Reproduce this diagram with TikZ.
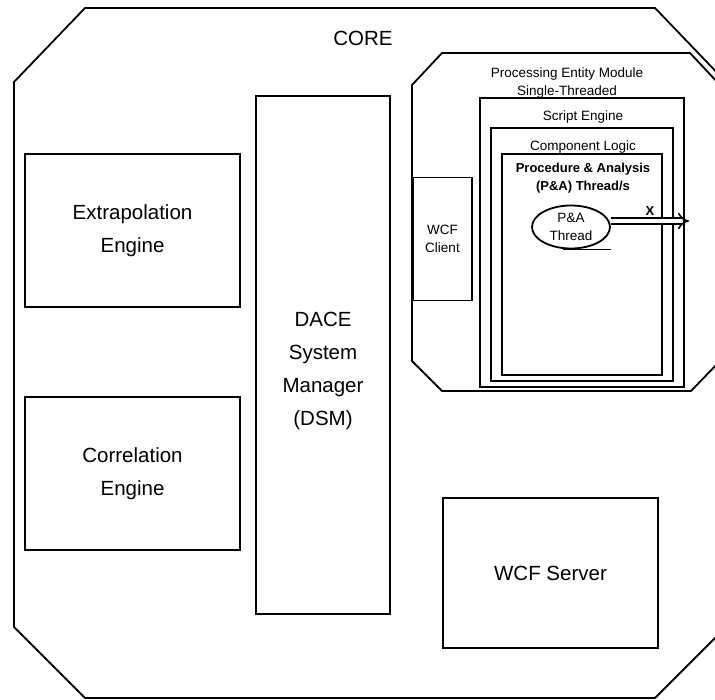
\documentclass[tikz,border=0pt]{standalone}
\usepackage{fontspec}
\setmainfont{Liberation Sans}
\usetikzlibrary{arrows.meta,shapes.geometric}
\begin{document}
\begin{tikzpicture}[x=1pt,y=-1pt,
  box/.style={draw, line width=1.8pt, inner sep=0pt, align=center},
  big/.style={font=\fontsize{20.5}{33}\selectfont, align=center},
  small/.style={font=\fontsize{13.5}{18.5}\selectfont, align=center},
  smallbold/.style={font=\bfseries\fontsize{13}{18}\selectfont, align=center},
  outline/.style={draw, line width=1.8pt, line join=round}]
\useasboundingbox (0,0) rectangle (715,699);
\clip (0,0) rectangle (715,699);
\fill[white] (0,0) rectangle (715,699);
% CORE octagon
\draw[outline] (85,8) -- (655,8) -- (726,82) -- (726,627) -- (655,698) -- (85,698) -- (14,627) -- (14,82) -- cycle;
\node[big] (core) at (363,38) {CORE};
% left boxes
\node[box, big, minimum width=215pt, minimum height=153pt] (extra) at (132.5,230.5) {Extrapolation\\Engine};
\node[box, big, minimum width=215pt, minimum height=153pt] (corr) at (132.5,473.5) {Correlation\\Engine};
\node[box, minimum width=134pt, minimum height=518pt] (dsm) at (323,355) {};
\node[big] (dsmtxt) at (323,371) {DACE\\System\\Manager\\(DSM)};
\node[box, big, minimum width=215pt, minimum height=150pt] (server) at (550.5,573) {WCF Server};
% Processing entity module octagon
\draw[outline] (442,53) -- (690,53) -- (720,85) -- (720,361) -- (691,391) -- (442,391) -- (412,361) -- (412,85) -- cycle;
\node[small] (pemtxt) at (567,83) {Processing Entity Module\\Single-Threaded};
\node[box, minimum width=204pt, minimum height=289pt] (single) at (582,242.5) {};
\node[box, minimum width=182pt, minimum height=253pt] (script) at (582,254.5) {};
\node[small] (scripttxt) at (583,117) {Script Engine};
\node[box, minimum width=160pt, minimum height=221pt] (comp) at (582,264.5) {};
\node[small] (comptxt) at (583,147) {Component Logic};
\node[smallbold] (pa) at (583,178) {Procedure \& Analysis\\(P\&A) Thread/s};
\node[box, small, minimum width=59pt, minimum height=123pt] (client) at (442.5,239) {WCF\\Client};
% P&A thread
\node[draw, ellipse, line width=1.8pt, minimum width=78pt, minimum height=43pt, inner sep=0pt, small] (thread) at (571,227) {P\&A\\Thread};
\draw[line width=1.8pt] (thread.south) ++(-8,0) -- ++(48,0);
\coordinate (tip) at (689,221);
\draw[line width=1.6pt, double distance=4pt, -{Implies[length=8pt]}] (thread.east |- tip) -- (tip);
\node[smallbold] (xlab) at (650,211) {X};
\end{tikzpicture}
\end{document}
